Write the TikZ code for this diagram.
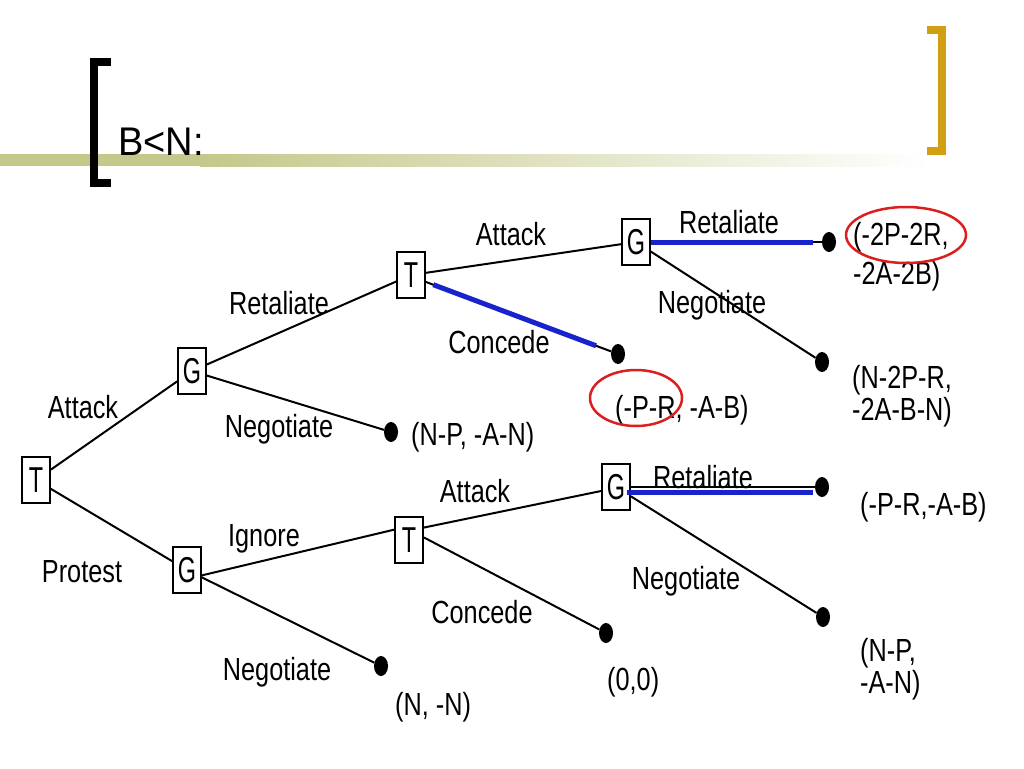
\documentclass[tikz,border=0pt]{standalone}
\usepackage{fontspec}
\setmainfont{Liberation Sans}[FakeStretch=0.79]
\newfontfamily\boxfont{Liberation Sans}[FakeStretch=0.65]
\newfontfamily\headfont{Liberation Sans}[FakeStretch=0.95]
\usetikzlibrary{shapes.geometric}
\definecolor{barolive}{RGB}{196,200,138}
\definecolor{bracketgold}{RGB}{210,158,18}
\definecolor{pathblue}{RGB}{25,35,205}
\definecolor{ringred}{RGB}{220,30,30}
\newcommand{\labelsize}{\fontsize{32}{36}\selectfont}
\newcommand{\boxsize}{\fontsize{36}{38}\selectfont}
\tikzset{
    act/.style={anchor=base, font=\labelsize, inner sep=0pt},
    payoff/.style={anchor=base west, font=\labelsize, inner sep=0pt},
    player/.style={draw, rectangle, line width=1.6pt, minimum width=28pt, minimum height=46pt, inner sep=0pt, font=\boxfont\boxsize},
    leaf/.style={ellipse, fill=black, minimum width=14pt, minimum height=20pt, inner sep=0pt},
    branch/.style={line width=2pt},
    best/.style={pathblue, line width=5pt},
    ring/.style={ringred, line width=2.5pt}
}

\begin{document}
\begin{tikzpicture}[x=1pt, y=-1pt]
    \useasboundingbox (0,0) rectangle (1024,768);

    % header
    \fill[barolive] (0,154) rectangle (200,166);
    \shade[left color=barolive, right color=white] (200,154) rectangle (930,166);
    \draw[line width=8pt] (111,62) -- (94,62) -- (94,183) -- (111,183);
    \draw[bracketgold, line width=8pt] (927,30) -- (942,30) -- (942,151) -- (927,151);
    \node[anchor=base west, inner sep=0pt, font=\headfont\fontsize{40}{44}\selectfont] (title) at (118,155) {B<N:};

    % players
    \node[player] (T0) at (36,480) {T};
    \node[player] (G1) at (192,371) {G};
    \node[player] (G2) at (187,570) {G};
    \node[player] (T1) at (411,275) {T};
    \node[player] (T2) at (409,540) {T};
    \node[player] (G3) at (636,242) {G};
    \node[player] (G4) at (616,487) {G};

    % end points
    \node[leaf] (d1) at (829,242) {};
    \node[leaf] (d2) at (822,362) {};
    \node[leaf] (d3) at (618,354) {};
    \node[leaf] (d4) at (391,432) {};
    \node[leaf] (d5) at (822,487) {};
    \node[leaf] (d6) at (823,617) {};
    \node[leaf] (d7) at (606,633) {};
    \node[leaf] (d8) at (381,666) {};

    \draw[branch] (T0) -- (G1);
    \draw[branch] (T0) -- (G2);
    \draw[branch] (G1) -- (T1);
    \draw[branch] (G1) -- (d4);
    \draw[branch] (G2.-20) -- (T2.145);
    \draw[branch] (G2) -- (d8);
    \draw[branch] (T1) -- (G3);
    \draw[branch] (T1.-25) -- (d3);
    \draw[branch] (G3) -- (d1);
    \draw[branch] (G3) -- (d2);
    \draw[branch] (T2.40) -- (G4.195);
    \draw[branch] (T2.10) -- (d7);
    \draw[branch] (G4) -- (d5);
    \draw[branch] (G4) -- (d6);

    \draw[best, shorten <=8pt, shorten >=16pt] (T1.-25) -- (d3);
    \draw[best, shorten >=9pt] (G3) -- (d1);
    \draw[best] ([xshift=-4pt, yshift=-5pt]G4.east) -- ([xshift=-9pt, yshift=-5pt]d5.center);

    % moves
    \node[act] (aAttack) at (83,418) {Attack};
    \node[act] (aProtest) at (82,582) {Protest};
    \node[act] (aRetal1) at (279,314) {Retaliate};
    \node[act] (aNego1) at (279,437) {Negotiate};
    \node[act] (aIgnore) at (264,546) {Ignore};
    \node[act] (aNego2) at (277,680) {Negotiate};
    \node[act] (aAttack1) at (511,245) {Attack};
    \node[act] (aConc1) at (499,353) {Concede};
    \node[act] (aRetal2) at (729,233) {Retaliate};
    \node[act] (aNego3) at (712,313) {Negotiate};
    \node[act] (aAttack2) at (475,502) {Attack};
    \node[act] (aConc2) at (482,623) {Concede};
    \node[act] (aRetal3) at (703,488) {Retaliate};
    \node[act] (aNego4) at (686,589) {Negotiate};

    % payoffs
    \node[payoff] (p1a) at (853,245) {(-2P-2R,};
    \node[payoff] (p1b) at (853,284) {-2A-2B)};
    \node[payoff] (p2a) at (852,388) {(N-2P-R,};
    \node[payoff] (p2b) at (852,420) {-2A-B-N)};
    \node[payoff] (p3) at (615,418) {(-P-R, -A-B)};
    \node[payoff] (p4) at (411,445) {(N-P, -A-N)};
    \node[payoff] (p5) at (860,515) {(-P-R,-A-B)};
    \node[payoff] (p6a) at (860,661) {(N-P,};
    \node[payoff] (p6b) at (860,693) {-A-N)};
    \node[payoff] (p7) at (607,690) {(0,0)};
    \node[payoff] (p8) at (395,715) {(N, -N)};

    \draw[ring] (906,235) ellipse [x radius=60, y radius=28];
    \draw[ring] (636,398) ellipse [x radius=46, y radius=28];
\end{tikzpicture}
\end{document}
